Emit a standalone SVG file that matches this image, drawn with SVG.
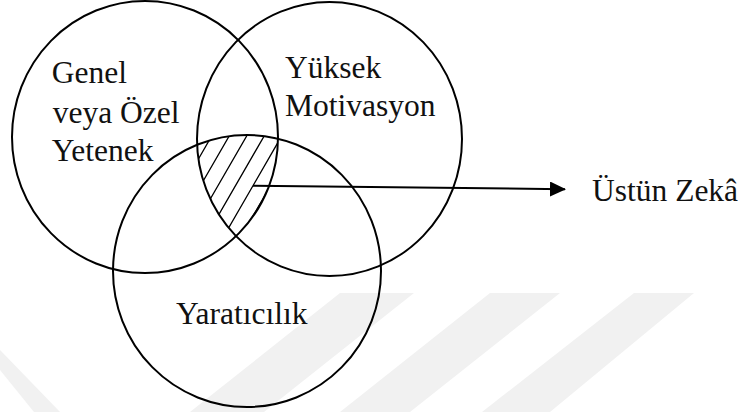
<svg xmlns="http://www.w3.org/2000/svg" width="744" height="412" viewBox="0 0 744 412">
<style>
.ell{fill:none;stroke:#000;stroke-width:2}
.hatch{stroke:#000;stroke-width:1.3}
.wm{fill:#f1f1f1}
text{font-family:"Liberation Serif","Times New Roman",serif;font-size:31.5px;fill:#111}
</style>
<defs>
<clipPath id="cA"><ellipse cx="145" cy="137" rx="133" ry="136"/></clipPath>
<clipPath id="cB"><ellipse cx="329.5" cy="139" rx="132.5" ry="137"/></clipPath>
<clipPath id="cC"><ellipse cx="247" cy="271" rx="134" ry="136"/></clipPath>
<marker id="arr" markerWidth="16" markerHeight="15" refX="15" refY="7.5" orient="auto" markerUnits="userSpaceOnUse">
<path d="M0,0 L16,7.5 L0,15 Z" fill="#000"/>
</marker>
</defs>
<rect width="744" height="412" fill="#fff"/>
<g id="watermark">
<polygon class="wm" points="0,350 0,370 34,412 60,412"/>
<polygon class="wm" points="340,293 414,293 264,412 190,412"/>
<polygon class="wm" points="490,293 560,293 410,412 340,412"/>
<polygon class="wm" points="634,293 694,293 550,412 482,412"/>
</g>
<g id="hatching">
<g clip-path="url(#cA)"><g clip-path="url(#cB)"><g clip-path="url(#cC)">
<path class="hatch" d="M234.4,36 L90.1,286 M251.9,36 L107.6,286 M269.4,36 L125.1,286 M286.9,36 L142.6,286 M304.4,36 L160.1,286 M321.9,36 L177.6,286 M339.4,36 L195.1,286 M356.9,36 L212.6,286 M374.4,36 L230.1,286 M391.9,36 L247.6,286 M409.4,36 L265.1,286"/>
</g></g></g>
</g>
<g id="node-yetenek">
<ellipse class="ell" cx="145" cy="137" rx="133" ry="136"/>
<text x="51.7" y="83.3">Genel</text>
<text x="52.7" y="122.7">veya Özel</text>
<text x="51.7" y="161">Yetenek</text>
</g>
<g id="node-motivasyon">
<ellipse class="ell" cx="329.5" cy="139" rx="132.5" ry="137"/>
<text x="285" y="77.7">Yüksek</text>
<text x="285" y="116">Motivasyon</text>
</g>
<g id="node-yaraticilik">
<ellipse class="ell" cx="247" cy="271" rx="134" ry="136"/>
<text x="176" y="324">Yaratıcılık</text>
</g>
<g id="node-ustun-zeka">
<text x="592" y="201">Üstün Zekâ</text>
</g>
<g id="connectors">
<line x1="253" y1="185.8" x2="565" y2="189.2" stroke="#000" stroke-width="2" marker-end="url(#arr)"/>
</g>
</svg>
